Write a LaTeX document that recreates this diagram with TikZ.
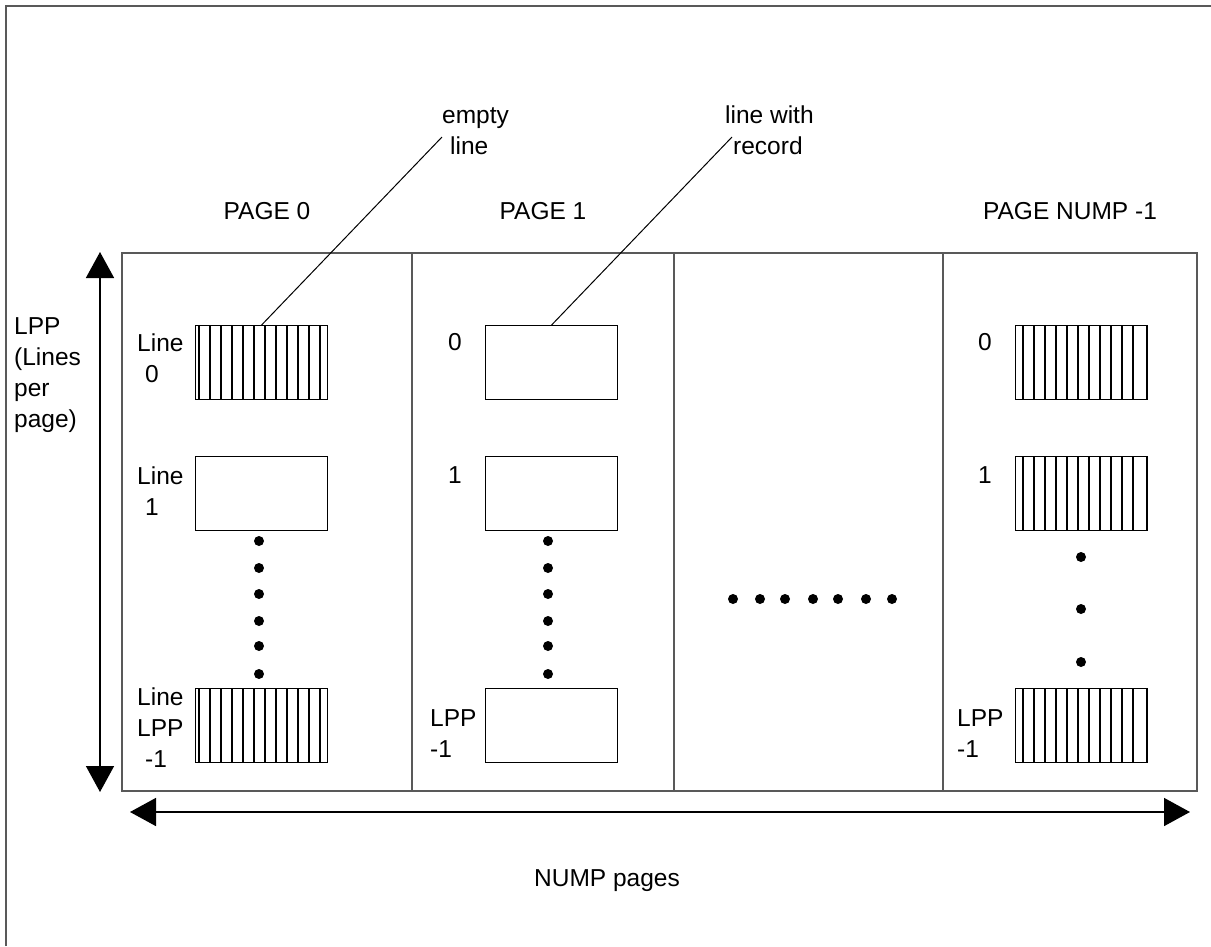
\documentclass[tikz,border=0pt]{standalone}
\usepackage{fontspec}
\setmainfont{Liberation Sans}
\usetikzlibrary{arrows.meta}
\definecolor{rulegray}{gray}{0.35}

% vertical hatching inside a named cell: first line offset, count
\newcommand\hatchcell[3]{%
  \foreach \k in {1,...,#3}{%
    \draw[hatchline] ([xshift={#2+11*(\k-1)}] #1.north west) -- ([xshift={#2+11*(\k-1)}] #1.south west);
  }%
}

\begin{document}
\begin{tikzpicture}[x=1pt,y=-1pt,
  lbl/.style={inner sep=0pt, font=\fontsize{24.5}{31}\selectfont, align=left, anchor=base west},
  title/.style={inner sep=0pt, font=\fontsize{24.5}{31}\selectfont, anchor=base},
  cell/.style={draw=black, line width=1.2pt, minimum width=132pt, minimum height=74pt, inner sep=0pt, anchor=north west},
  hatchline/.style={line width=1.1pt, black},
  frameline/.style={line width=1.6pt, rulegray},
  leader/.style={line width=1pt, black},
  dimarrow/.style={line width=1.6pt, black, {Triangle[length=26pt,width=28pt]}-{Triangle[length=26pt,width=28pt]}},
  dot/.style={black}
]
\useasboundingbox (0,0) rectangle (1211,946);

% outer frame
\draw[frameline] (6,946) -- (6,6) -- (1211,6);

% page table with column dividers
\draw[frameline] (122,253) rectangle (1197,791);
\foreach \xd in {412,674,943} \draw[frameline] (\xd,253) -- (\xd,791);

% cells of page 0
\node[cell] (p0a) at (195,325) {};
\node[cell] (p0b) at (195,456) {};
\node[cell] (p0c) at (195,688) {};
\hatchcell{p0a}{4}{12}
\hatchcell{p0c}{4}{12}

% cells of page 1
\node[cell] (p1a) at (485,325) {};
\node[cell] (p1b) at (485,456) {};
\node[cell] (p1c) at (485,688) {};

% cells of page NUMP-1
\node[cell] (p2a) at (1015,325) {};
\node[cell] (p2b) at (1015,456) {};
\node[cell] (p2c) at (1015,688) {};
\foreach \c in {p2a,p2b,p2c}{
  \hatchcell{\c}{8}{11}
  \draw[hatchline] ([xshift=-2] \c.north east) -- ([xshift=-2] \c.south east);
}

% vertical ellipses
\foreach \yy in {541,568,594,621,646,674}{
  \fill[dot] (259,\yy) circle (5);
  \fill[dot] (548,\yy) circle (5);
}
\foreach \yy in {557,609,662} \fill[dot] (1081,\yy) circle (5);
% horizontal ellipsis
\foreach \xx in {733,760,785,813,838,866,892} \fill[dot] (\xx,599) circle (5);

% page titles
\node[title] (t0) at (267,219) {PAGE 0};
\node[title] (t1) at (543,219) {PAGE 1};
\node[title] (t2) at (1070,219) {PAGE NUMP -1};

% callouts (anchored at the baseline of their last line)
\node[lbl] (empty) at (442,154) {empty\\\hspace*{8pt}line};
\node[lbl] (record) at (725,154) {line with\\\hspace*{8pt}record};
\coordinate (emptytip) at (442,137);
\coordinate (recordtip) at (732,137);
\draw[leader] (emptytip) -- (p0a.north);
\draw[leader] (recordtip) -- (p1a.north);

% line labels
\node[lbl] (lpp) at (14,427) {LPP\\(Lines\\per\\page)};
\node[lbl] (l00) at (137,382) {Line\\\hspace*{8pt}0};
\node[lbl] (l01) at (137,515) {Line\\\hspace*{8pt}1};
\node[lbl] (l0n) at (137,767) {Line\\LPP\\\hspace*{8pt}-1};
\node[lbl] (l10) at (448,350) {0};
\node[lbl] (l11) at (448,483) {1};
\node[lbl] (l1n) at (430,757) {LPP\\-1};
\node[lbl] (l20) at (978,350) {0};
\node[lbl] (l21) at (978,483) {1};
\node[lbl] (l2n) at (957,757) {LPP\\-1};

% dimension arrows
\coordinate (vtop) at (100,252);
\coordinate (vbot) at (100,792);
\coordinate (hleft) at (130,812);
\coordinate (hright) at (1190,812);
\draw[dimarrow] (vtop) -- (vbot);
\draw[dimarrow] (hleft) -- (hright);
\node[title] (nump) at (607,886) {NUMP pages};
\end{tikzpicture}
\end{document}
